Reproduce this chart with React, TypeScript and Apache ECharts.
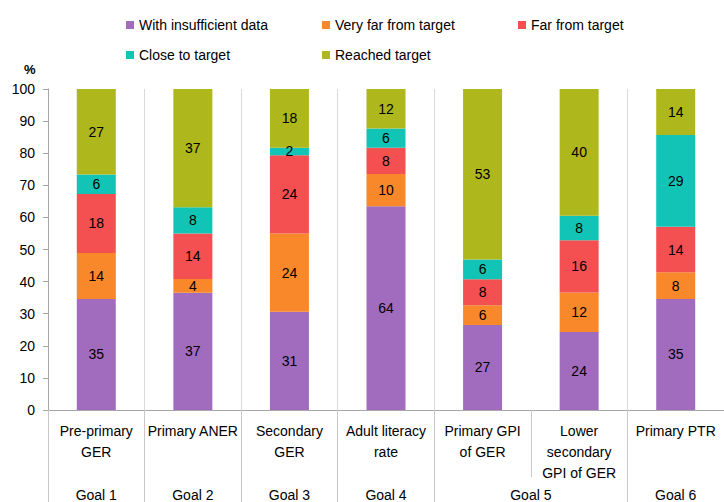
import React, { useEffect, useRef } from "react";
import * as echarts from "echarts";

const categories = [
  "Pre-primary\nGER",
  "Primary ANER",
  "Secondary\nGER",
  "Adult literacy\nrate",
  "Primary GPI\nof GER",
  "Lower\nsecondary\nGPI of GER",
  "Primary PTR",
];

const seriesNames = [
  "With insufficient data",
  "Very far from target",
  "Far from target",
  "Close to target",
  "Reached target",
];

const insufficientData = [34.6, 36.5, 30.6, 63.5, 26.5, 24.3, 34.6];
const veryFarFromTarget = [14.3, 4.3, 24.4, 10, 6.1, 12.3, 8.3];
const farFromTarget = [18.4, 14.2, 24.4, 8.2, 8.1, 16.3, 14.2];
const closeToTarget = [6.1, 8.2, 2.3, 6, 6.2, 7.6, 28.6];
const reachedTarget = [26.6, 36.8, 18.3, 12.3, 53.1, 39.5, 14.3];

const goalLabels = ["Goal 1", "Goal 2", "Goal 3", "Goal 4", "Goal 5", "Goal 6"];
const goalSpans: [number, number][] = [
  [0, 0],
  [1, 1],
  [2, 2],
  [3, 3],
  [4, 5],
  [6, 6],
];

const colors = ["#A26CBE", "#F8882A", "#F44F51", "#12C4B5", "#AEB71B"];

const FONT = "Liberation Sans, Arial, sans-serif";

export default function App() {
  const ref = useRef<HTMLDivElement>(null);

  useEffect(() => {
    if (!ref.current) return;
    const chart = echarts.init(ref.current, null, { renderer: "svg" });
    const values = [
      insufficientData,
      veryFarFromTarget,
      farFromTarget,
      closeToTarget,
      reachedTarget,
    ];
    const legendPos = [
      { left: 126, top: 18 },
      { left: 322, top: 18 },
      { left: 518, top: 18 },
      { left: 126, top: 48 },
      { left: 322, top: 48 },
    ];
    const skipBetweenGoal5 = (i: number) => i !== 5;

    chart.setOption({
      animation: false,
      textStyle: { fontFamily: FONT },
      title: {
        text: "%",
        left: 19,
        top: 58,
        textStyle: { fontSize: 13, fontWeight: "bold", color: "#000", fontFamily: FONT },
      },
      legend: seriesNames.map((n, i) => ({
        data: [n],
        left: legendPos[i].left,
        top: legendPos[i].top,
        icon: "rect",
        itemWidth: 8,
        itemHeight: 8,
        padding: 0,
        textStyle: { fontSize: 14, color: "#000", fontFamily: FONT },
        selectedMode: false,
      })),
      grid: { left: 48, right: -5, top: 89, bottom: 92, containLabel: false },
      xAxis: [
        {
          type: "category",
          data: categories,
          position: "bottom",
          axisLine: { show: true, lineStyle: { color: "#A6A6A6", width: 1 } },
          axisTick: {
            show: true,
            interval: 0,
            length: 67,
            lineStyle: { color: "#C8C8C8", width: 1 },
          },
          axisLabel: {
            interval: 0,
            margin: 10,
            fontSize: 14,
            lineHeight: 21,
            color: "#000",
            fontFamily: FONT,
          },
          splitLine: {
            show: true,
            interval: skipBetweenGoal5,
            lineStyle: { color: "#D9D9D9", width: 1 },
          },
        },
        {
          type: "category",
          data: categories,
          position: "bottom",
          axisLine: { show: false },
          axisLabel: { show: false },
          splitLine: { show: false },
          axisTick: {
            show: true,
            interval: skipBetweenGoal5,
            length: 92,
            lineStyle: { color: "#C8C8C8", width: 1 },
          },
        },
      ],
      yAxis: {
        type: "value",
        min: 0,
        max: 100,
        interval: 10,
        axisLine: { show: true, lineStyle: { color: "#A6A6A6", width: 1 } },
        axisTick: { show: true, length: 5, lineStyle: { color: "#A6A6A6" } },
        axisLabel: { fontSize: 14, color: "#000", margin: 13, fontFamily: FONT },
        splitLine: { show: false },
      },
      series: seriesNames.map((n, i) => ({
        name: n,
        type: "bar",
        stack: "total",
        barWidth: 39,
        data: values[i],
        itemStyle: { color: colors[i] },
        label: {
          show: true,
          position: "inside",
          fontSize: 14,
          color: "#000",
          fontFamily: FONT,
          formatter: (p: any) => String(Math.round(p.value)),
        },
      })),
    });

    const graphics = goalLabels.map((g, i) => {
      const [a, b] = goalSpans[i];
      const xa = chart.convertToPixel({ xAxisIndex: 0 }, a) as number;
      const xb = chart.convertToPixel({ xAxisIndex: 0 }, b) as number;
      return {
        type: "text",
        x: (xa + xb) / 2,
        y: 495,
        style: {
          text: g,
          fill: "#000",
          fontSize: 14,
          fontFamily: FONT,
          align: "center",
          verticalAlign: "middle",
        },
      };
    });
    chart.setOption({ graphic: graphics });

    return () => chart.dispose();
  }, []);

  return (
    <div
      ref={ref}
      style={{ position: "fixed", left: 0, top: 0, width: 724, height: 502, background: "#fff" }}
    />
  );
}
